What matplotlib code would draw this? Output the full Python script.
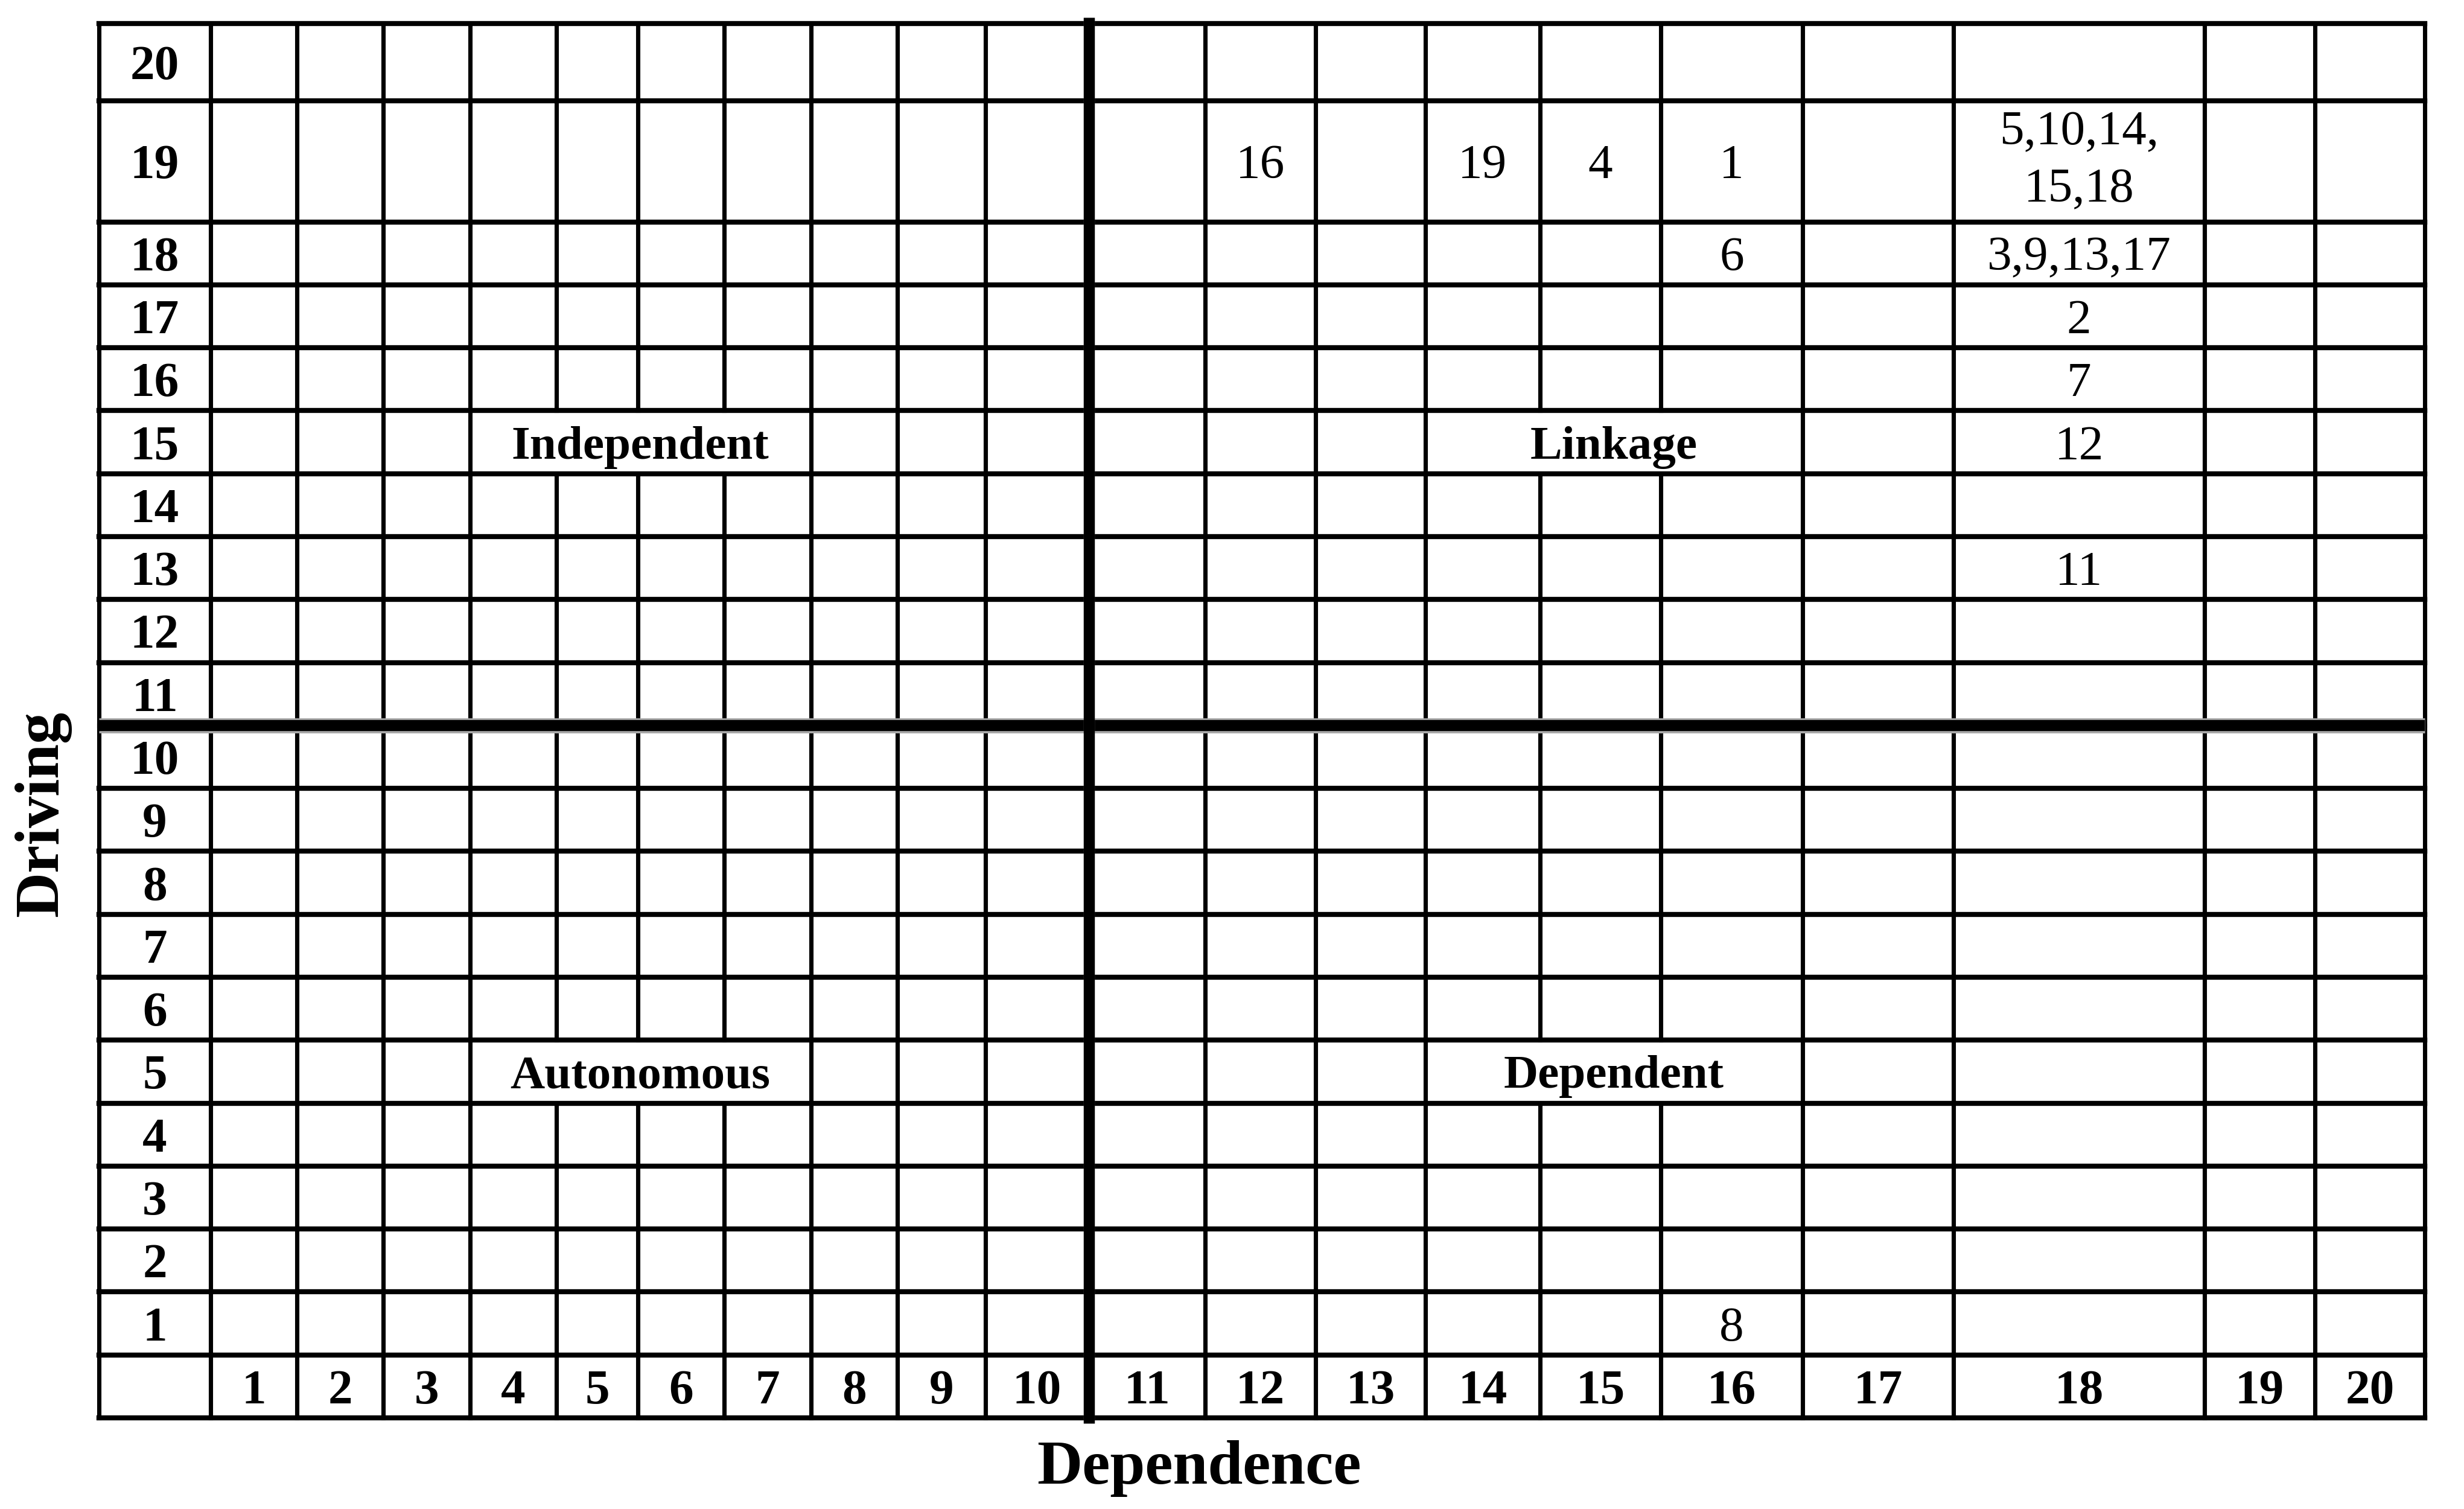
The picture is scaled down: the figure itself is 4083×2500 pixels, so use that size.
import matplotlib
matplotlib.use('Agg')
import matplotlib.pyplot as plt
from matplotlib.collections import LineCollection
import numpy as np

plt.rcParams['font.family'] = ['Liberation Serif', 'DejaVu Serif']

# scale levels on both axes (driving power / dependence)
levels = list(range(1, 21))

# variables placed in the grid: label, dependence, driving power
var_labels = ['16', '19', '4', '1', '5,10,14,\n15,18', '6', '3,9,13,17', '2', '7', '12', '11', '8']
var_dependence = [12, 14, 15, 16, 18, 16, 18, 18, 18, 18, 18, 16]
var_driving = [19, 19, 19, 19, 19, 18, 18, 17, 16, 15, 13, 1]

# quadrant names sit in merged cells (row, first col, last col)
quadrant_names = ['Independent', 'Linkage', 'Autonomous', 'Dependent']
quadrant_rows = [15, 15, 5, 5]
quadrant_cols = [(4, 7), (14, 16), (4, 7), (14, 16)]

# table layout (like the word table): label column first, label row first
col_widths = [71, 55, 55, 55, 55, 52, 55, 55, 55, 56, 66, 74, 70, 70, 73, 77, 90, 96, 160, 70, 70]
row_heights = [40] * 19 + [77, 49]

x_edges = np.concatenate([[0], np.cumsum(col_widths)])
y_edges = np.concatenate([[0], np.cumsum(row_heights)])
W, H = x_edges[-1], y_edges[-1]
x_mid = (x_edges[:-1] + x_edges[1:]) / 2
y_mid = (y_edges[:-1] + y_edges[1:]) / 2
split = 11  # thick lines between level 10 and 11

fig = plt.figure(figsize=(4083 / 300, 2500 / 300), dpi=300)
ax = fig.add_axes([164 / 4083, 1 - 2349 / 2500, (4018 - 164) / 4083, (2349 - 39) / 2500])
ax.set_xlim(0, W)
ax.set_ylim(0, H)
ax.axis('off')

# merged cells -> inner vertical edges to skip
skip = set()
for r, (c0, c1) in zip(quadrant_rows, quadrant_cols):
    for i in range(c0 + 1, c1 + 1):
        skip.add((i, r))

# thin grid
hsegs = [[(0, y), (W, y)] for j, y in enumerate(y_edges) if j != split]
vsegs = []
for i, x in enumerate(x_edges):
    if i == split:
        continue
    for r in range(len(row_heights)):
        if (i, r) not in skip:
            vsegs.append([(x, y_edges[r]), (x, y_edges[r + 1])])
ax.add_collection(LineCollection(hsegs, colors='black', linewidths=2.0, capstyle='projecting', clip_on=False))
ax.add_collection(LineCollection(vsegs, colors='black', linewidths=1.7, capstyle='projecting', clip_on=False))

# thick quadrant dividers
ax.plot([0, W], [y_edges[split]] * 2, color='#a8a8a8', lw=6.0, clip_on=False, solid_capstyle='butt')
ax.plot([0, W], [y_edges[split]] * 2, color='black', lw=4.4, clip_on=False, solid_capstyle='butt')
ax.plot([x_edges[split]] * 2, [-4, H + 4], color='#8c8c8c', lw=4.4, clip_on=False, solid_capstyle='butt')
ax.plot([x_edges[split]] * 2, [0, H], color='black', lw=4.4, clip_on=False, solid_capstyle='projecting')

# row and column labels
for k in levels:
    ax.text(x_mid[0], y_mid[k], str(k), ha='center', va='center_baseline',
            fontsize=19.5, fontweight='bold')
    ax.text(x_mid[k], y_mid[0], str(k), ha='center', va='center_baseline',
            fontsize=19.5, fontweight='bold')

# variables in their cells
for lab, dep, drv in zip(var_labels, var_dependence, var_driving):
    ax.text(x_mid[dep], y_mid[drv], lab, ha='center',
            va='center' if '\n' in lab else 'center_baseline',
            fontsize=19.5, linespacing=1.4)

# quadrant names
for name, r, (c0, c1) in zip(quadrant_names, quadrant_rows, quadrant_cols):
    ax.text((x_edges[c0] + x_edges[c1 + 1]) / 2, y_mid[r], name, ha='center',
            va='center_baseline', fontsize=19, fontweight='bold')

# axis titles
ax.text(0.473, -0.0316, 'Dependence', transform=ax.transAxes, ha='center',
        va='center_baseline', fontsize=25, fontweight='bold')
ax.text(-0.0243, 0.433, 'Driving', transform=ax.transAxes, ha='center',
        va='center', rotation=90, fontsize=25, fontweight='bold')

fig.savefig('out.png', dpi=300, facecolor='white')
